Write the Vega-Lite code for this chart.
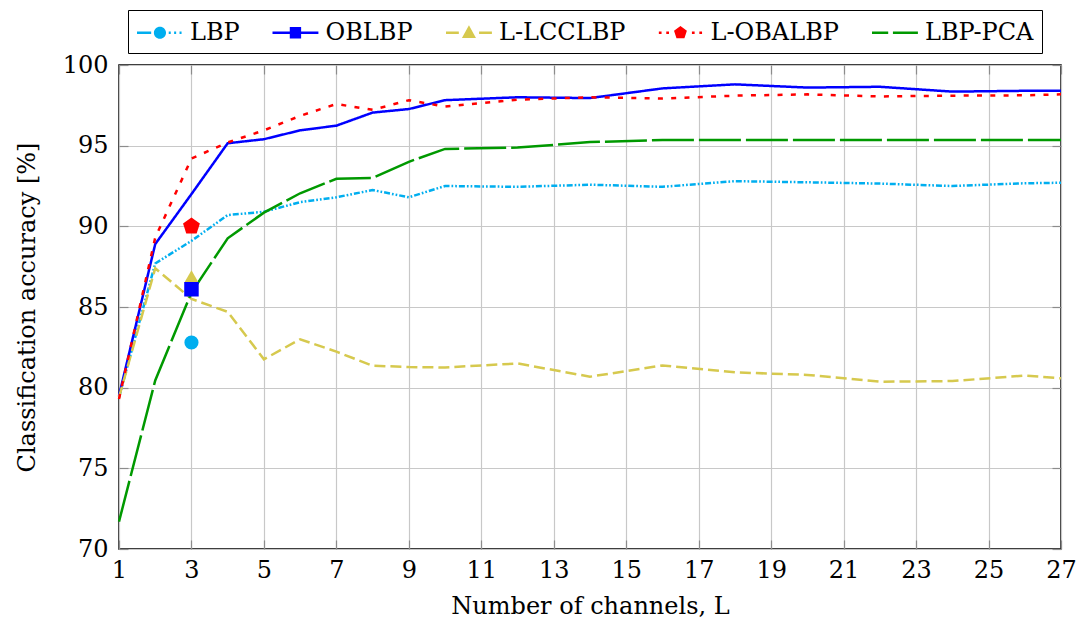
{
  "$schema": "https://vega.github.io/schema/vega-lite/v6.json",
  "width": 942,
  "height": 484,
  "autosize": "none",
  "padding": {"left": 119, "top": 65, "right": 15, "bottom": 72},
  "background": "white",
  "config": {"view": {"stroke": "black", "strokeWidth": 1.5}, "font": "DejaVu Serif"},
  "datasets": {
    "lines": [
      {"series": "LBP", "L": 1, "acc": 79.4}, {"series": "LBP", "L": 2, "acc": 87.7}, {"series": "LBP", "L": 3, "acc": 89.1}, {"series": "LBP", "L": 4, "acc": 90.7}, {"series": "LBP", "L": 5, "acc": 90.9}, {"series": "LBP", "L": 6, "acc": 91.5}, {"series": "LBP", "L": 7, "acc": 91.8}, {"series": "LBP", "L": 8, "acc": 92.25}, {"series": "LBP", "L": 9, "acc": 91.8}, {"series": "LBP", "L": 10, "acc": 92.5}, {"series": "LBP", "L": 12, "acc": 92.45}, {"series": "LBP", "L": 14, "acc": 92.58}, {"series": "LBP", "L": 16, "acc": 92.45}, {"series": "LBP", "L": 18, "acc": 92.8}, {"series": "LBP", "L": 20, "acc": 92.73}, {"series": "LBP", "L": 22, "acc": 92.65}, {"series": "LBP", "L": 24, "acc": 92.5}, {"series": "LBP", "L": 26, "acc": 92.67}, {"series": "LBP", "L": 27, "acc": 92.7},
      {"series": "OBLBP", "L": 1, "acc": 79.5}, {"series": "OBLBP", "L": 2, "acc": 88.9}, {"series": "OBLBP", "L": 3, "acc": 92.0}, {"series": "OBLBP", "L": 4, "acc": 95.15}, {"series": "OBLBP", "L": 5, "acc": 95.4}, {"series": "OBLBP", "L": 6, "acc": 95.95}, {"series": "OBLBP", "L": 7, "acc": 96.24}, {"series": "OBLBP", "L": 8, "acc": 97.05}, {"series": "OBLBP", "L": 9, "acc": 97.27}, {"series": "OBLBP", "L": 10, "acc": 97.82}, {"series": "OBLBP", "L": 12, "acc": 98.0}, {"series": "OBLBP", "L": 14, "acc": 97.95}, {"series": "OBLBP", "L": 16, "acc": 98.55}, {"series": "OBLBP", "L": 18, "acc": 98.8}, {"series": "OBLBP", "L": 20, "acc": 98.6}, {"series": "OBLBP", "L": 22, "acc": 98.65}, {"series": "OBLBP", "L": 24, "acc": 98.35}, {"series": "OBLBP", "L": 26, "acc": 98.4}, {"series": "OBLBP", "L": 27, "acc": 98.4},
      {"series": "L-LCCLBP", "L": 1, "acc": 79.4}, {"series": "L-LCCLBP", "L": 2, "acc": 87.4}, {"series": "L-LCCLBP", "L": 3, "acc": 85.5}, {"series": "L-LCCLBP", "L": 4, "acc": 84.7}, {"series": "L-LCCLBP", "L": 5, "acc": 81.76}, {"series": "L-LCCLBP", "L": 6, "acc": 83.0}, {"series": "L-LCCLBP", "L": 7, "acc": 82.23}, {"series": "L-LCCLBP", "L": 8, "acc": 81.36}, {"series": "L-LCCLBP", "L": 9, "acc": 81.28}, {"series": "L-LCCLBP", "L": 10, "acc": 81.25}, {"series": "L-LCCLBP", "L": 12, "acc": 81.5}, {"series": "L-LCCLBP", "L": 14, "acc": 80.68}, {"series": "L-LCCLBP", "L": 16, "acc": 81.38}, {"series": "L-LCCLBP", "L": 18, "acc": 80.95}, {"series": "L-LCCLBP", "L": 20, "acc": 80.79}, {"series": "L-LCCLBP", "L": 22, "acc": 80.37}, {"series": "L-LCCLBP", "L": 24, "acc": 80.41}, {"series": "L-LCCLBP", "L": 26, "acc": 80.75}, {"series": "L-LCCLBP", "L": 27, "acc": 80.58},
      {"series": "L-OBALBP", "L": 1, "acc": 79.3}, {"series": "L-OBALBP", "L": 2, "acc": 89.3}, {"series": "L-OBALBP", "L": 3, "acc": 94.2}, {"series": "L-OBALBP", "L": 4, "acc": 95.2}, {"series": "L-OBALBP", "L": 5, "acc": 95.95}, {"series": "L-OBALBP", "L": 6, "acc": 96.85}, {"series": "L-OBALBP", "L": 7, "acc": 97.58}, {"series": "L-OBALBP", "L": 8, "acc": 97.22}, {"series": "L-OBALBP", "L": 9, "acc": 97.82}, {"series": "L-OBALBP", "L": 10, "acc": 97.42}, {"series": "L-OBALBP", "L": 12, "acc": 97.85}, {"series": "L-OBALBP", "L": 14, "acc": 98.0}, {"series": "L-OBALBP", "L": 16, "acc": 97.92}, {"series": "L-OBALBP", "L": 18, "acc": 98.1}, {"series": "L-OBALBP", "L": 20, "acc": 98.18}, {"series": "L-OBALBP", "L": 22, "acc": 98.05}, {"series": "L-OBALBP", "L": 24, "acc": 98.1}, {"series": "L-OBALBP", "L": 26, "acc": 98.12}, {"series": "L-OBALBP", "L": 27, "acc": 98.18},
      {"series": "LBP-PCA", "L": 1, "acc": 71.7}, {"series": "LBP-PCA", "L": 2, "acc": 80.45}, {"series": "LBP-PCA", "L": 3, "acc": 85.9}, {"series": "LBP-PCA", "L": 4, "acc": 89.26}, {"series": "LBP-PCA", "L": 5, "acc": 90.85}, {"series": "LBP-PCA", "L": 6, "acc": 92.05}, {"series": "LBP-PCA", "L": 7, "acc": 92.95}, {"series": "LBP-PCA", "L": 8, "acc": 93.0}, {"series": "LBP-PCA", "L": 9, "acc": 94.0}, {"series": "LBP-PCA", "L": 10, "acc": 94.8}, {"series": "LBP-PCA", "L": 12, "acc": 94.88}, {"series": "LBP-PCA", "L": 14, "acc": 95.22}, {"series": "LBP-PCA", "L": 16, "acc": 95.35}, {"series": "LBP-PCA", "L": 18, "acc": 95.35}, {"series": "LBP-PCA", "L": 20, "acc": 95.35}, {"series": "LBP-PCA", "L": 22, "acc": 95.35}, {"series": "LBP-PCA", "L": 24, "acc": 95.35}, {"series": "LBP-PCA", "L": 26, "acc": 95.35}, {"series": "LBP-PCA", "L": 27, "acc": 95.35}
    ],
    "singles": [
      {"series": "LBP", "L": 3, "acc": 82.8},
      {"series": "L-LCCLBP", "L": 3, "acc": 86.9},
      {"series": "OBLBP", "L": 3, "acc": 86.1},
      {"series": "L-OBALBP", "L": 3, "acc": 90.0}
    ]
  },
  "layer": [
    {
      "data": {"name": "lines"},
      "mark": {"type": "line", "strokeWidth": 2.5},
      "encoding": {
        "x": {
          "field": "L", "type": "quantitative",
          "scale": {"domain": [1, 27], "nice": false, "zero": false},
          "axis": {
            "orient": "bottom", "values": [1, 3, 5, 7, 9, 11, 13, 15, 17, 19, 21, 23, 25, 27],
            "grid": true, "gridColor": "#c8c8c8", "gridWidth": 1.2, "domain": false,
            "ticks": true, "tickSize": -9, "tickColor": "#8c8c8c", "tickWidth": 1.2,
            "labelFont": "DejaVu Serif", "labelFontSize": 24, "labelColor": "black", "labelPadding": 18,
            "labelFlush": false, "labelOverlap": false,
            "title": "Number of channels, L", "titleFont": "DejaVu Serif", "titleFontSize": 24,
            "titleFontWeight": "normal", "titleColor": "black", "titlePadding": 12
          }
        },
        "y": {
          "field": "acc", "type": "quantitative",
          "scale": {"domain": [70, 100], "nice": false, "zero": false},
          "axis": {
            "orient": "left", "values": [70, 75, 80, 85, 90, 95, 100],
            "grid": true, "gridColor": "#c8c8c8", "gridWidth": 1.2, "domain": false,
            "ticks": true, "tickSize": -9, "tickColor": "#8c8c8c", "tickWidth": 1.2,
            "labelFont": "DejaVu Serif", "labelFontSize": 24, "labelColor": "black", "labelPadding": 20,
            "labelFlush": false, "labelOverlap": false,
            "title": "Classification accuracy [%]", "titleFont": "DejaVu Serif", "titleFontSize": 24,
            "titleFontWeight": "normal", "titleColor": "black", "titlePadding": 23
          }
        },
        "stroke": {
          "field": "series", "type": "nominal",
          "scale": {
            "domain": ["L-LCCLBP", "L-OBALBP", "LBP", "LBP-PCA", "OBLBP"],
            "range": ["#D6C94E", "#FF0000", "#00AEEF", "#009900", "#0000FF"]
          },
          "legend": null
        },
        "strokeDash": {
          "field": "series", "type": "nominal",
          "scale": {
            "domain": ["L-LCCLBP", "L-OBALBP", "LBP", "LBP-PCA", "OBLBP"],
            "range": [[11, 5], [5, 8.3], [6, 2, 1.7, 2, 1.7, 2], [42, 5], [1, 0]]
          },
          "legend": null
        }
      }
    },
    {
      "data": {"name": "singles"},
      "transform": [{"filter": "datum.series === 'LBP'"}],
      "mark": {"type": "point", "shape": "circle", "filled": true, "size": 200, "opacity": 1},
      "encoding": {
        "x": {
          "field": "L", "type": "quantitative",
          "axis": {
            "orient": "top", "values": [1, 3, 5, 7, 9, 11, 13, 15, 17, 19, 21, 23, 25, 27],
            "grid": false, "domain": false, "labels": false, "ticks": true, "tickSize": -9,
            "tickColor": "#8c8c8c", "tickWidth": 1.2, "title": null
          }
        },
        "y": {
          "field": "acc", "type": "quantitative",
          "axis": {
            "orient": "right", "values": [70, 75, 80, 85, 90, 95, 100],
            "grid": false, "domain": false, "labels": false, "ticks": true, "tickSize": -9,
            "tickColor": "#8c8c8c", "tickWidth": 1.2, "title": null
          }
        },
        "fill": {
          "field": "series", "type": "nominal",
          "scale": {
            "domain": ["L-LCCLBP", "L-OBALBP", "LBP", "LBP-PCA", "OBLBP"],
            "range": ["#D6C94E", "#FF0000", "#00AEEF", "#009900", "#0000FF"]
          },
          "legend": null
        }
      }
    },
    {
      "data": {"name": "singles"},
      "transform": [{"filter": "datum.series === 'L-LCCLBP'"}],
      "mark": {"type": "point", "shape": "triangle-up", "filled": true, "size": 200, "opacity": 1},
      "encoding": {
        "x": {"field": "L", "type": "quantitative", "axis": null},
        "y": {"field": "acc", "type": "quantitative", "axis": null},
        "fill": {"field": "series", "type": "nominal", "legend": null}
      }
    },
    {
      "data": {"name": "singles"},
      "transform": [{"filter": "datum.series === 'OBLBP'"}],
      "mark": {"type": "point", "shape": "square", "filled": true, "size": 210, "opacity": 1},
      "encoding": {
        "x": {"field": "L", "type": "quantitative", "axis": null},
        "y": {"field": "acc", "type": "quantitative", "axis": null},
        "fill": {"field": "series", "type": "nominal", "legend": null}
      }
    },
    {
      "data": {"name": "singles"},
      "transform": [{"filter": "datum.series === 'L-OBALBP'"}],
      "mark": {"type": "point", "shape": "M0,-1.25L1.189,-0.386L0.735,1.011L-0.735,1.011L-1.189,-0.386Z", "filled": true, "size": 200, "opacity": 1},
      "encoding": {
        "x": {"field": "L", "type": "quantitative", "axis": null},
        "y": {"field": "acc", "type": "quantitative", "axis": null},
        "fill": {"field": "series", "type": "nominal", "legend": null}
      }
    },
    {
      "data": {"name": "singles"},
      "mark": {"type": "point", "filled": true, "size": 200, "opacity": 0},
      "encoding": {
        "x": {"field": "L", "type": "quantitative", "axis": null},
        "y": {"field": "acc", "type": "quantitative", "axis": null},
        "color": {
          "field": "series", "type": "nominal",
          "scale": {
            "domain": ["LBP", "OBLBP", "L-LCCLBP", "L-OBALBP", "LBP-PCA"],
            "range": ["#00AEEF", "#0000FF", "#D6C94E", "#FF0000", "#009900"]
          },
          "legend": {
            "orient": "none", "legendX": 9, "legendY": -55, "direction": "horizontal", "columns": 5,
            "title": null, "strokeColor": "black", "fillColor": "white", "padding": 8, "columnPadding": 29.5,
            "cornerRadius": 0, "symbolSize": 729, "symbolOpacity": 1,
            "labelFont": "DejaVu Serif", "labelFontSize": 24, "labelColor": "black", "labelOffset": 25, "labelLimit": 0
          }
        },
        "shape": {
          "field": "series", "type": "nominal",
          "scale": {
            "domain": ["LBP", "OBLBP", "L-LCCLBP", "L-OBALBP", "LBP-PCA"],
            "range": [
              "M-1,-0.093H0.05V0.093H-1ZM1.35,-0.093H1.5V0.093H1.35ZM1.75,-0.093H1.9V0.093H1.75ZM2.15,-0.093H2.3V0.093H2.15ZM0.25,0A0.45,0.45,0,1,0,1.15,0A0.45,0.45,0,1,0,0.25,0Z",
              "M-1,-0.093H2.4V0.093H-1ZM0.28,-0.42H1.12V0.42H0.28Z",
              "M-1,-0.093H-0.05V0.093H-1ZM1.45,-0.093H2.4V0.093H1.45ZM0.7,-0.55L1.22,0.38H0.18Z",
              "M-0.9,-0.093H-0.7V0.093H-0.9ZM-0.35,-0.093H-0.15V0.093H-0.35ZM1.55,-0.093H1.75V0.093H1.55ZM2.1,-0.093H2.3V0.093H2.1ZM0.7,-0.5L1.176,-0.155L0.994,0.405L0.406,0.405L0.224,-0.155Z",
              "M-1,-0.093H0.2V0.093H-1ZM0.55,-0.093H2.4V0.093H0.55Z"
            ]
          },
          "legend": {
            "orient": "none", "legendX": 9, "legendY": -55, "direction": "horizontal", "columns": 5,
            "title": null, "strokeColor": "black", "fillColor": "white", "padding": 8, "columnPadding": 29.5,
            "cornerRadius": 0, "symbolSize": 729, "symbolOpacity": 1,
            "labelFont": "DejaVu Serif", "labelFontSize": 24, "labelColor": "black", "labelOffset": 25, "labelLimit": 0
          }
        }
      }
    }
  ],
  "resolve": {"axis": {"x": "independent", "y": "independent"}}
}
